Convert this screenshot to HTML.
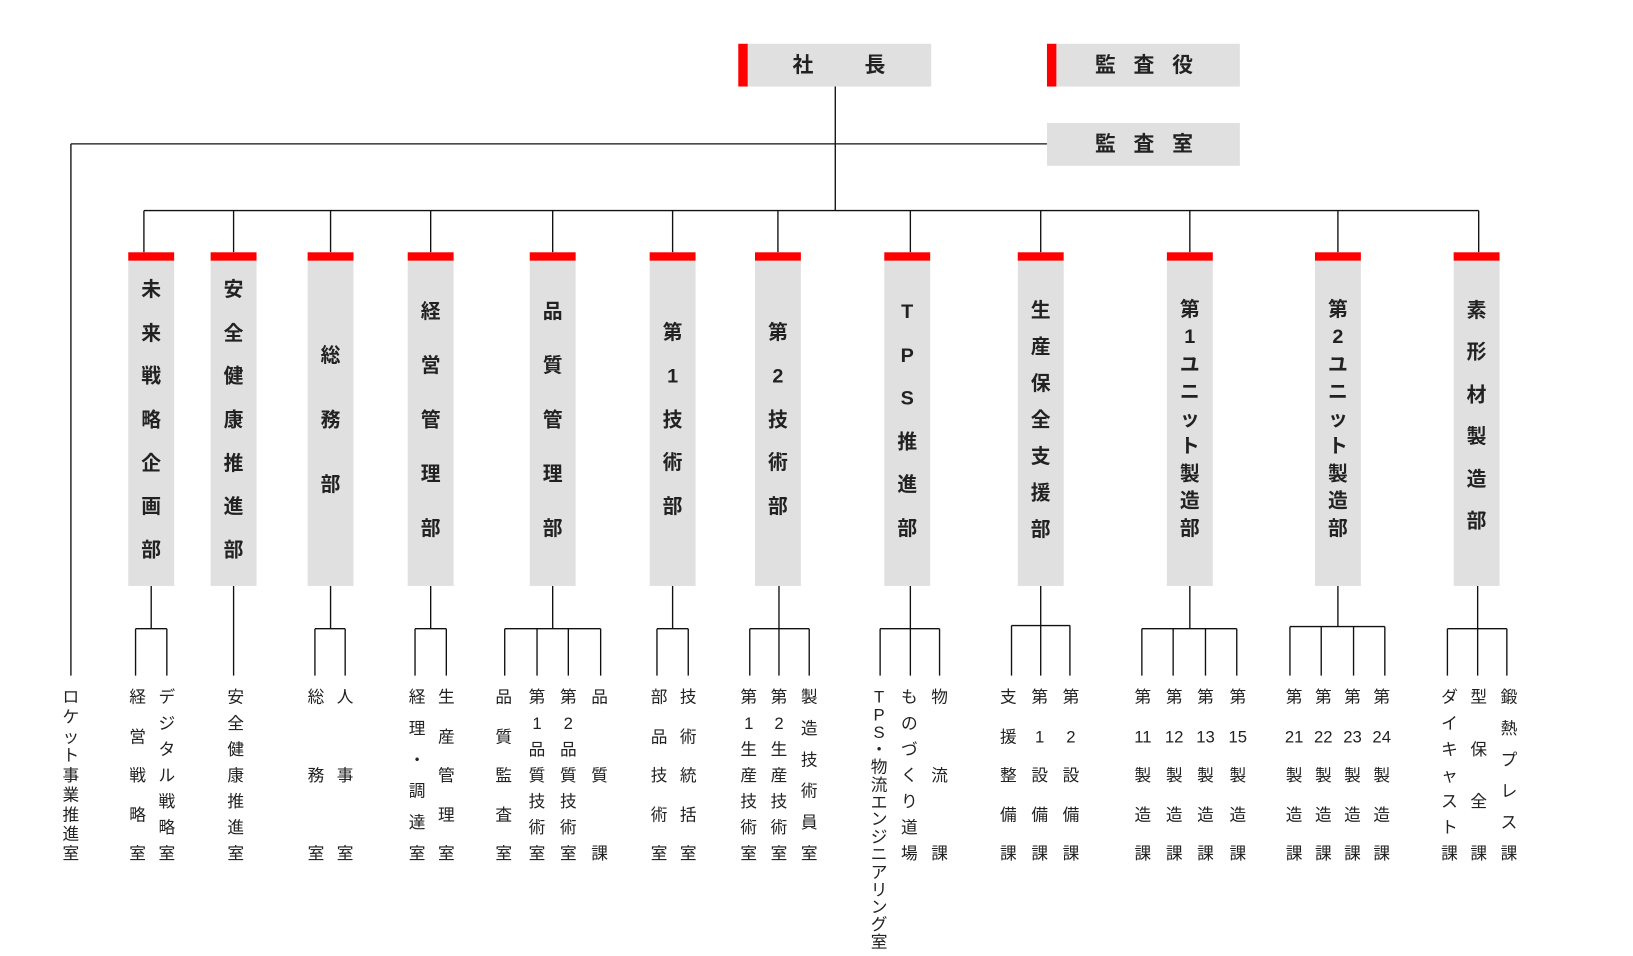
<!DOCTYPE html>
<html><head><meta charset="utf-8"><style>
html,body{margin:0;padding:0;background:#fff;}
body{width:1633px;height:956px;overflow:hidden;position:relative;}
#w{position:absolute;left:0;top:0;width:1566px;height:917px;transform:scale(1.0428,1.0426);transform-origin:0 0;font-family:"Liberation Sans","Noto Sans CJK JP",sans-serif;color:#222;}
.tb{position:absolute;background:#e0e0e0;height:41px;width:185px;}
.tb .r{position:absolute;left:0;top:0;width:9px;height:100%;background:#f00;}
.tb span{position:absolute;top:50%;transform:translate(-50%,-50%);font-weight:bold;font-size:20px;line-height:1;}
.d{position:absolute;top:242px;width:44px;height:320px;background:#e0e0e0;border-top:8px solid #f00;box-sizing:border-box;}
.dt,.c{position:absolute;display:flex;flex-direction:column;justify-content:space-between;align-items:center;width:30px;}
.dt{font-weight:bold;font-size:19px;margin-top:2px;}
.dt span,.c span{line-height:1;display:block;}
.c{font-size:16px;top:662px;height:166px;}
svg{position:absolute;left:0;top:0;}
</style></head><body><div id="w">
<svg width="1566" height="917" viewBox="0 0 1566 917" fill="none" stroke="#111" stroke-width="1.3">
<path d="M801 83V202M68 138H1004M68 138V648M138 202H1418"/>
<path d="M138 202V242M224 202V242M317 202V242M413 202V242M530 202V242M645 202V242M746 202V242M873 202V242M998 202V242M1141 202V242M1283 202V242M1418 202V242"/>
<path d="M145 562V603M130 603H160M130 603V648M160 603V648"/>
<path d="M224 562V648"/>
<path d="M317 562V603M302 603H331M302 603V648M331 603V648"/>
<path d="M413 562V603M398 603H428M398 603V648M428 603V648"/>
<path d="M530 562V603M484 603H576M484 603V648M515 603V648M545 603V648M576 603V648"/>
<path d="M645 562V603M630 603H660M630 603V648M660 603V648"/>
<path d="M747 562V603M719 603H776M719 603V648M747 603V648M776 603V648"/>
<path d="M873 562V603M844 603H901M844 603V648M873 603V648M901 603V648"/>
<path d="M998 562V648M970 600H1026M970 600V648M1026 600V648"/>
<path d="M1141 562V603M1095 603H1186M1095 603V648M1125 603V648M1156 603V648M1186 603V648"/>
<path d="M1283 562V601M1237 601H1328M1237 601V648M1267 601V648M1298 601V648M1328 601V648"/>
<path d="M1417 562V603M1388 603H1445M1388 603V648M1417 603V648M1445 603V648"/>
</svg>
<div class="tb" style="left:708px;top:42px"><div class="r"></div><span style="left:62px">社</span><span style="left:131px">長</span></div>
<div class="tb" style="left:1004px;top:42px"><div class="r"></div><span style="left:56px">監</span><span style="left:93px">査</span><span style="left:130px">役</span></div>
<div class="tb" style="left:1004px;top:118px"><span style="left:56px">監</span><span style="left:93px">査</span><span style="left:130px">室</span></div>

<div class="d" style="left:123px"></div><div class="d" style="left:202px"></div><div class="d" style="left:295px"></div><div class="d" style="left:391px"></div><div class="d" style="left:508px"></div><div class="d" style="left:623px"></div><div class="d" style="left:724px"></div><div class="d" style="left:848px"></div><div class="d" style="left:976px"></div><div class="d" style="left:1119px"></div><div class="d" style="left:1261px"></div><div class="d" style="left:1394px"></div>

<div class="dt" style="left:130px;top:267px;height:269px"><span>未</span><span>来</span><span>戦</span><span>略</span><span>企</span><span>画</span><span>部</span></div>
<div class="dt" style="left:209px;top:267px;height:269px"><span>安</span><span>全</span><span>健</span><span>康</span><span>推</span><span>進</span><span>部</span></div>
<div class="dt" style="left:302px;top:330px;height:143px"><span>総</span><span>務</span><span>部</span></div>
<div class="dt" style="left:398px;top:288px;height:227px"><span>経</span><span>営</span><span>管</span><span>理</span><span>部</span></div>
<div class="dt" style="left:515px;top:288px;height:227px"><span>品</span><span>質</span><span>管</span><span>理</span><span>部</span></div>
<div class="dt" style="left:630px;top:308px;height:186px"><span>第</span><span>1</span><span>技</span><span>術</span><span>部</span></div>
<div class="dt" style="left:731px;top:308px;height:186px"><span>第</span><span>2</span><span>技</span><span>術</span><span>部</span></div>
<div class="dt" style="left:855px;top:288px;height:227px"><span>T</span><span>P</span><span>S</span><span>推</span><span>進</span><span>部</span></div>
<div class="dt" style="left:983px;top:287px;height:229px"><span>生</span><span>産</span><span>保</span><span>全</span><span>支</span><span>援</span><span>部</span></div>
<div class="dt" style="left:1126px;top:286px;height:229px"><span>第</span><span>1</span><span>ユ</span><span>ニ</span><span>ッ</span><span>ト</span><span>製</span><span>造</span><span>部</span></div>
<div class="dt" style="left:1268px;top:286px;height:229px"><span>第</span><span>2</span><span>ユ</span><span>ニ</span><span>ッ</span><span>ト</span><span>製</span><span>造</span><span>部</span></div>
<div class="dt" style="left:1401px;top:287px;height:221px"><span>素</span><span>形</span><span>材</span><span>製</span><span>造</span><span>部</span></div>

<div class="c" style="left:53px"><span>ロ</span><span>ケ</span><span>ッ</span><span>ト</span><span>事</span><span>業</span><span>推</span><span>進</span><span>室</span></div>
<div class="c" style="left:117px"><span>経</span><span>営</span><span>戦</span><span>略</span><span>室</span></div>
<div class="c" style="left:145px"><span>デ</span><span>ジ</span><span>タ</span><span>ル</span><span>戦</span><span>略</span><span>室</span></div>
<div class="c" style="left:211px"><span>安</span><span>全</span><span>健</span><span>康</span><span>推</span><span>進</span><span>室</span></div>
<div class="c" style="left:288px"><span>総</span><span>務</span><span>室</span></div>
<div class="c" style="left:316px"><span>人</span><span>事</span><span>室</span></div>
<div class="c" style="left:385px"><span>経</span><span>理</span><span>・</span><span>調</span><span>達</span><span>室</span></div>
<div class="c" style="left:413px"><span>生</span><span>産</span><span>管</span><span>理</span><span>室</span></div>
<div class="c" style="left:468px"><span>品</span><span>質</span><span>監</span><span>査</span><span>室</span></div>
<div class="c" style="left:500px"><span>第</span><span>1</span><span>品</span><span>質</span><span>技</span><span>術</span><span>室</span></div>
<div class="c" style="left:530px"><span>第</span><span>2</span><span>品</span><span>質</span><span>技</span><span>術</span><span>室</span></div>
<div class="c" style="left:560px"><span>品</span><span>質</span><span>課</span></div>
<div class="c" style="left:617px"><span>部</span><span>品</span><span>技</span><span>術</span><span>室</span></div>
<div class="c" style="left:645px"><span>技</span><span>術</span><span>統</span><span>括</span><span>室</span></div>
<div class="c" style="left:703px"><span>第</span><span>1</span><span>生</span><span>産</span><span>技</span><span>術</span><span>室</span></div>
<div class="c" style="left:732px"><span>第</span><span>2</span><span>生</span><span>産</span><span>技</span><span>術</span><span>室</span></div>
<div class="c" style="left:761px"><span>製</span><span>造</span><span>技</span><span>術</span><span>員</span><span>室</span></div>
<div class="c" style="left:828px;height:251px"><span>T</span><span>P</span><span>S</span><span>・</span><span>物</span><span>流</span><span>エ</span><span>ン</span><span>ジ</span><span>ニ</span><span>ア</span><span>リ</span><span>ン</span><span>グ</span><span>室</span></div>
<div class="c" style="left:857px"><span>も</span><span>の</span><span>づ</span><span>く</span><span>り</span><span>道</span><span>場</span></div>
<div class="c" style="left:886px"><span>物</span><span>流</span><span>課</span></div>
<div class="c" style="left:952px"><span>支</span><span>援</span><span>整</span><span>備</span><span>課</span></div>
<div class="c" style="left:982px"><span>第</span><span>1</span><span>設</span><span>備</span><span>課</span></div>
<div class="c" style="left:1012px"><span>第</span><span>2</span><span>設</span><span>備</span><span>課</span></div>
<div class="c" style="left:1081px"><span>第</span><span>11</span><span>製</span><span>造</span><span>課</span></div>
<div class="c" style="left:1111px"><span>第</span><span>12</span><span>製</span><span>造</span><span>課</span></div>
<div class="c" style="left:1141px"><span>第</span><span>13</span><span>製</span><span>造</span><span>課</span></div>
<div class="c" style="left:1172px"><span>第</span><span>15</span><span>製</span><span>造</span><span>課</span></div>
<div class="c" style="left:1226px"><span>第</span><span>21</span><span>製</span><span>造</span><span>課</span></div>
<div class="c" style="left:1254px"><span>第</span><span>22</span><span>製</span><span>造</span><span>課</span></div>
<div class="c" style="left:1282px"><span>第</span><span>23</span><span>製</span><span>造</span><span>課</span></div>
<div class="c" style="left:1310px"><span>第</span><span>24</span><span>製</span><span>造</span><span>課</span></div>
<div class="c" style="left:1375px"><span>ダ</span><span>イ</span><span>キ</span><span>ャ</span><span>ス</span><span>ト</span><span>課</span></div>
<div class="c" style="left:1403px"><span>型</span><span>保</span><span>全</span><span>課</span></div>
<div class="c" style="left:1432px"><span>鍛</span><span>熱</span><span>プ</span><span>レ</span><span>ス</span><span>課</span></div>
</div></body></html>
